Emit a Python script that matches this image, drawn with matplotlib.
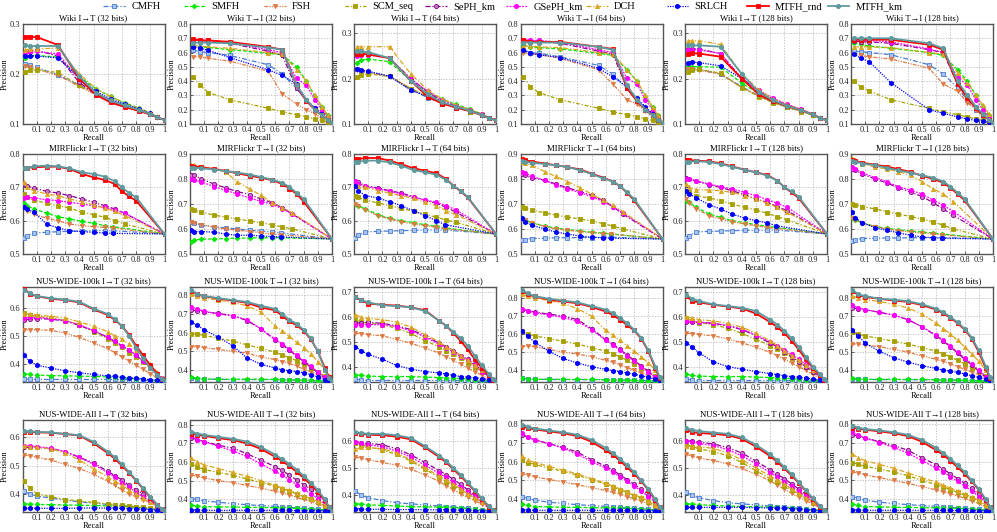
import matplotlib
matplotlib.use('Agg')
import matplotlib.pyplot as plt
from matplotlib.lines import Line2D

plt.rcParams['font.family'] = ['Liberation Serif', 'DejaVu Serif']

METHODS = ['CMFH', 'SMFH', 'FSH', 'SCM_seq', 'SePH_km', 'GSePH_km', 'DCH', 'SRLCH', 'MTFH_rnd', 'MTFH_km']

# ---------------- recall grids ----------------
R_WIKI_IT = [0.02, 0.05, 0.1, 0.25, 0.4, 0.52, 0.62, 0.72, 0.82, 0.9, 0.95, 1.0]
R_WIKI_TI = [0.02, 0.07, 0.13, 0.28, 0.55, 0.65, 0.75, 0.82, 0.88, 0.93, 0.97, 1.0]
R_MIR_A = [0.01, 0.03, 0.08, 0.17, 0.25, 0.33, 0.42, 0.5, 0.58, 0.65, 0.7, 0.75, 0.8, 1.0]
R_MIR_B = [0.01, 0.03, 0.08, 0.17, 0.25, 0.33, 0.42, 0.5, 0.58, 0.65, 0.72, 1.0]
R_MIR_C = [0.01, 0.03, 0.08, 0.17, 0.25, 0.33, 0.42, 0.5, 0.58, 0.64, 1.0]
R_NUS = [0.01, 0.05, 0.1, 0.2, 0.3, 0.4, 0.5, 0.6, 0.65, 0.7, 0.75, 0.8, 0.85, 0.9, 0.95, 0.98, 1.0]

# ---------------- Wiki ----------------
wiki_it32 = dict(
    CMFH=[0.22, 0.217, 0.213, 0.198, 0.178, 0.16, 0.148, 0.138, 0.128, 0.12, 0.113, 0.108],
    SMFH=[0.232, 0.236, 0.237, 0.234, 0.195, 0.17, 0.155, 0.142, 0.132, 0.122, 0.114, 0.108],
    FSH=[0.215, 0.213, 0.21, 0.197, 0.175, 0.158, 0.146, 0.136, 0.127, 0.119, 0.113, 0.108],
    SCM_seq=[0.203, 0.207, 0.208, 0.203, 0.177, 0.16, 0.147, 0.137, 0.127, 0.119, 0.113, 0.108],
    SePH_km=[0.244, 0.246, 0.247, 0.236, 0.183, 0.158, 0.145, 0.135, 0.127, 0.12, 0.113, 0.108],
    GSePH_km=[0.242, 0.243, 0.245, 0.24, 0.19, 0.162, 0.148, 0.137, 0.128, 0.12, 0.113, 0.108],
    DCH=[0.248, 0.25, 0.25, 0.252, 0.2, 0.17, 0.155, 0.142, 0.131, 0.122, 0.114, 0.108],
    SRLCH=[0.236, 0.236, 0.236, 0.232, 0.192, 0.165, 0.15, 0.14, 0.13, 0.121, 0.113, 0.108],
    MTFH_rnd=[0.274, 0.274, 0.274, 0.258, 0.19, 0.158, 0.143, 0.134, 0.126, 0.119, 0.113, 0.108],
    MTFH_km=[0.257, 0.256, 0.256, 0.256, 0.195, 0.162, 0.147, 0.137, 0.128, 0.12, 0.113, 0.108])
wiki_ti32 = dict(
    CMFH=[0.62, 0.605, 0.6, 0.58, 0.515, 0.45, 0.35, 0.26, 0.2, 0.16, 0.13, 0.11],
    SMFH=[0.655, 0.64, 0.635, 0.62, 0.595, 0.585, 0.5, 0.4, 0.29, 0.22, 0.16, 0.11],
    FSH=[0.57, 0.57, 0.56, 0.54, 0.47, 0.31, 0.24, 0.2, 0.17, 0.14, 0.12, 0.11],
    SCM_seq=[0.43, 0.37, 0.32, 0.27, 0.21, 0.185, 0.165, 0.15, 0.135, 0.125, 0.115, 0.11],
    SePH_km=[0.69, 0.685, 0.68, 0.665, 0.61, 0.58, 0.35, 0.27, 0.21, 0.17, 0.13, 0.11],
    GSePH_km=[0.69, 0.69, 0.685, 0.67, 0.62, 0.6, 0.42, 0.37, 0.27, 0.2, 0.15, 0.11],
    DCH=[0.65, 0.645, 0.64, 0.63, 0.6, 0.59, 0.48, 0.4, 0.3, 0.22, 0.16, 0.11],
    SRLCH=[0.64, 0.63, 0.615, 0.565, 0.48, 0.44, 0.38, 0.27, 0.21, 0.17, 0.13, 0.11],
    MTFH_rnd=[0.695, 0.685, 0.685, 0.675, 0.64, 0.62, 0.37, 0.26, 0.2, 0.16, 0.13, 0.11],
    MTFH_km=[0.67, 0.67, 0.67, 0.665, 0.635, 0.62, 0.37, 0.27, 0.2, 0.16, 0.13, 0.11])
wiki_it64 = dict(
    CMFH=[0.22, 0.217, 0.215, 0.205, 0.175, 0.158, 0.145, 0.136, 0.127, 0.119, 0.113, 0.108],
    SMFH=[0.235, 0.24, 0.243, 0.237, 0.195, 0.17, 0.155, 0.143, 0.132, 0.122, 0.114, 0.108],
    FSH=[0.218, 0.215, 0.213, 0.205, 0.178, 0.16, 0.146, 0.137, 0.127, 0.119, 0.113, 0.108],
    SCM_seq=[0.203, 0.207, 0.21, 0.205, 0.178, 0.16, 0.147, 0.137, 0.127, 0.119, 0.113, 0.108],
    SePH_km=[0.257, 0.258, 0.255, 0.245, 0.2, 0.17, 0.15, 0.139, 0.129, 0.121, 0.114, 0.108],
    GSePH_km=[0.25, 0.252, 0.252, 0.245, 0.198, 0.172, 0.153, 0.14, 0.13, 0.121, 0.114, 0.108],
    DCH=[0.27, 0.27, 0.27, 0.27, 0.21, 0.175, 0.155, 0.142, 0.131, 0.122, 0.114, 0.108],
    SRLCH=[0.222, 0.218, 0.216, 0.205, 0.175, 0.16, 0.146, 0.137, 0.128, 0.12, 0.113, 0.108],
    MTFH_rnd=[0.255, 0.255, 0.253, 0.245, 0.195, 0.16, 0.145, 0.136, 0.128, 0.12, 0.113, 0.108],
    MTFH_km=[0.26, 0.26, 0.258, 0.245, 0.195, 0.165, 0.148, 0.138, 0.129, 0.12, 0.113, 0.108])
wiki_ti64 = dict(
    CMFH=[0.62, 0.6, 0.595, 0.57, 0.51, 0.45, 0.35, 0.26, 0.2, 0.16, 0.13, 0.11],
    SMFH=[0.65, 0.64, 0.635, 0.625, 0.595, 0.58, 0.48, 0.4, 0.29, 0.22, 0.16, 0.11],
    FSH=[0.6, 0.59, 0.585, 0.56, 0.48, 0.38, 0.27, 0.24, 0.19, 0.15, 0.12, 0.11],
    SCM_seq=[0.43, 0.36, 0.32, 0.27, 0.21, 0.185, 0.165, 0.15, 0.135, 0.125, 0.115, 0.11],
    SePH_km=[0.69, 0.68, 0.68, 0.665, 0.61, 0.59, 0.35, 0.27, 0.21, 0.17, 0.13, 0.11],
    GSePH_km=[0.69, 0.685, 0.685, 0.67, 0.62, 0.6, 0.42, 0.38, 0.27, 0.2, 0.15, 0.11],
    DCH=[0.645, 0.645, 0.64, 0.635, 0.6, 0.59, 0.48, 0.4, 0.3, 0.22, 0.16, 0.11],
    SRLCH=[0.615, 0.595, 0.585, 0.565, 0.49, 0.43, 0.36, 0.28, 0.22, 0.17, 0.13, 0.11],
    MTFH_rnd=[0.69, 0.675, 0.675, 0.675, 0.64, 0.625, 0.35, 0.26, 0.2, 0.16, 0.13, 0.11],
    MTFH_km=[0.67, 0.67, 0.67, 0.67, 0.64, 0.62, 0.37, 0.27, 0.2, 0.16, 0.13, 0.11])
wiki_it128 = dict(
    CMFH=[0.225, 0.222, 0.22, 0.21, 0.182, 0.162, 0.148, 0.137, 0.128, 0.12, 0.113, 0.108],
    SMFH=[0.225, 0.226, 0.226, 0.225, 0.19, 0.167, 0.152, 0.14, 0.13, 0.121, 0.114, 0.108],
    FSH=[0.22, 0.22, 0.218, 0.21, 0.18, 0.162, 0.147, 0.137, 0.128, 0.12, 0.113, 0.108],
    SCM_seq=[0.215, 0.218, 0.22, 0.212, 0.18, 0.16, 0.147, 0.137, 0.127, 0.119, 0.113, 0.108],
    SePH_km=[0.265, 0.265, 0.265, 0.255, 0.2, 0.172, 0.155, 0.142, 0.131, 0.121, 0.114, 0.108],
    GSePH_km=[0.262, 0.263, 0.263, 0.255, 0.2, 0.174, 0.157, 0.143, 0.132, 0.122, 0.114, 0.108],
    DCH=[0.283, 0.283, 0.283, 0.275, 0.21, 0.175, 0.155, 0.142, 0.131, 0.122, 0.114, 0.108],
    SRLCH=[0.235, 0.236, 0.235, 0.228, 0.2, 0.165, 0.15, 0.14, 0.13, 0.121, 0.113, 0.108],
    MTFH_rnd=[0.255, 0.256, 0.255, 0.248, 0.2, 0.165, 0.15, 0.14, 0.13, 0.121, 0.113, 0.108],
    MTFH_km=[0.273, 0.273, 0.273, 0.27, 0.21, 0.17, 0.152, 0.14, 0.13, 0.121, 0.113, 0.108])
wiki_ti128 = dict(
    CMFH=[0.61, 0.605, 0.6, 0.585, 0.515, 0.45, 0.355, 0.265, 0.2, 0.16, 0.13, 0.11],
    SMFH=[0.67, 0.66, 0.645, 0.63, 0.6, 0.58, 0.48, 0.4, 0.3, 0.22, 0.16, 0.11],
    FSH=[0.59, 0.58, 0.57, 0.555, 0.49, 0.38, 0.33, 0.25, 0.2, 0.15, 0.12, 0.11],
    SCM_seq=[0.4, 0.36, 0.33, 0.27, 0.21, 0.185, 0.165, 0.15, 0.135, 0.125, 0.115, 0.11],
    SePH_km=[0.68, 0.675, 0.675, 0.665, 0.62, 0.6, 0.38, 0.3, 0.22, 0.17, 0.13, 0.11],
    GSePH_km=[0.69, 0.685, 0.685, 0.675, 0.625, 0.6, 0.43, 0.37, 0.27, 0.2, 0.15, 0.11],
    DCH=[0.64, 0.64, 0.64, 0.635, 0.6, 0.59, 0.46, 0.39, 0.3, 0.23, 0.17, 0.11],
    SRLCH=[0.59, 0.56, 0.535, 0.39, 0.2, 0.175, 0.15, 0.135, 0.125, 0.118, 0.113, 0.11],
    MTFH_rnd=[0.69, 0.69, 0.69, 0.69, 0.655, 0.62, 0.38, 0.28, 0.21, 0.16, 0.13, 0.11],
    MTFH_km=[0.7, 0.7, 0.7, 0.7, 0.665, 0.63, 0.4, 0.3, 0.22, 0.17, 0.13, 0.11])

# ---------------- MIRFlickr ----------------
mir_it32 = dict(
    CMFH=[0.547, 0.555, 0.563, 0.565, 0.567, 0.568, 0.569, 0.57, 0.57, 0.57, 0.56],
    SMFH=[0.653, 0.645, 0.635, 0.623, 0.612, 0.605, 0.598, 0.592, 0.585, 0.582, 0.56],
    FSH=[0.64, 0.63, 0.62, 0.607, 0.6, 0.59, 0.585, 0.582, 0.58, 0.578, 0.56],
    SCM_seq=[0.68, 0.67, 0.662, 0.652, 0.645, 0.638, 0.625, 0.618, 0.61, 0.6, 0.59, 0.56],
    SePH_km=[0.71, 0.705, 0.698, 0.688, 0.683, 0.675, 0.665, 0.655, 0.645, 0.635, 0.622, 0.56],
    GSePH_km=[0.668, 0.67, 0.668, 0.663, 0.66, 0.655, 0.65, 0.645, 0.64, 0.632, 0.623, 0.56],
    DCH=[0.715, 0.7, 0.69, 0.68, 0.675, 0.665, 0.657, 0.647, 0.637, 0.628, 0.615, 0.56],
    SRLCH=[0.642, 0.635, 0.625, 0.59, 0.578, 0.57, 0.567, 0.565, 0.563, 0.562, 0.56],
    MTFH_rnd=[0.757, 0.758, 0.76, 0.762, 0.762, 0.755, 0.74, 0.73, 0.722, 0.71, 0.688, 0.673, 0.66, 0.56],
    MTFH_km=[0.758, 0.758, 0.763, 0.765, 0.763, 0.757, 0.745, 0.74, 0.732, 0.718, 0.7, 0.683, 0.67, 0.56])
mir_ti32 = dict(
    CMFH=[0.63, 0.625, 0.615, 0.608, 0.605, 0.6, 0.595, 0.592, 0.588, 0.585, 0.56],
    SMFH=[0.55, 0.555, 0.56, 0.56, 0.562, 0.563, 0.564, 0.565, 0.565, 0.565, 0.56],
    FSH=[0.63, 0.625, 0.618, 0.607, 0.6, 0.595, 0.59, 0.585, 0.58, 0.577, 0.56],
    SCM_seq=[0.68, 0.675, 0.668, 0.655, 0.648, 0.64, 0.632, 0.625, 0.617, 0.608, 0.6, 0.56],
    SePH_km=[0.818, 0.815, 0.8, 0.78, 0.765, 0.75, 0.738, 0.72, 0.705, 0.685, 0.66, 0.56],
    GSePH_km=[0.8, 0.797, 0.788, 0.77, 0.755, 0.74, 0.725, 0.71, 0.7, 0.68, 0.66, 0.56],
    DCH=[0.855, 0.858, 0.85, 0.84, 0.828, 0.79, 0.76, 0.735, 0.705, 0.685, 0.665, 0.56],
    SRLCH=[0.595, 0.59, 0.59, 0.587, 0.58, 0.575, 0.575, 0.572, 0.57, 0.568, 0.56],
    MTFH_rnd=[0.852, 0.85, 0.847, 0.84, 0.833, 0.823, 0.813, 0.805, 0.795, 0.78, 0.762, 0.74, 0.71, 0.56],
    MTFH_km=[0.845, 0.845, 0.843, 0.838, 0.832, 0.826, 0.818, 0.808, 0.797, 0.785, 0.768, 0.745, 0.72, 0.56])
mir_it64 = dict(
    CMFH=[0.548, 0.556, 0.566, 0.568, 0.569, 0.57, 0.571, 0.572, 0.572, 0.572, 0.56],
    SMFH=[0.65, 0.645, 0.635, 0.618, 0.607, 0.6, 0.594, 0.588, 0.583, 0.578, 0.56],
    FSH=[0.65, 0.645, 0.632, 0.615, 0.605, 0.597, 0.59, 0.585, 0.58, 0.576, 0.56],
    SCM_seq=[0.673, 0.67, 0.662, 0.653, 0.645, 0.637, 0.628, 0.62, 0.61, 0.602, 0.595, 0.56],
    SePH_km=[0.72, 0.715, 0.705, 0.698, 0.69, 0.683, 0.672, 0.662, 0.652, 0.64, 0.625, 0.56],
    GSePH_km=[0.72, 0.71, 0.703, 0.695, 0.688, 0.68, 0.67, 0.662, 0.655, 0.645, 0.632, 0.56],
    DCH=[0.705, 0.703, 0.7, 0.69, 0.683, 0.675, 0.667, 0.655, 0.645, 0.63, 0.618, 0.56],
    SRLCH=[0.705, 0.69, 0.675, 0.668, 0.657, 0.645, 0.63, 0.615, 0.6, 0.588, 0.56],
    MTFH_rnd=[0.785, 0.785, 0.788, 0.788, 0.78, 0.77, 0.757, 0.75, 0.742, 0.725, 0.705, 0.688, 0.67, 0.56],
    MTFH_km=[0.775, 0.777, 0.78, 0.78, 0.775, 0.765, 0.752, 0.745, 0.738, 0.722, 0.705, 0.69, 0.672, 0.56])
mir_ti64 = dict(
    CMFH=[0.555, 0.558, 0.562, 0.563, 0.565, 0.565, 0.566, 0.566, 0.567, 0.567, 0.56],
    SMFH=[0.645, 0.637, 0.625, 0.612, 0.603, 0.598, 0.592, 0.587, 0.584, 0.58, 0.56],
    FSH=[0.64, 0.635, 0.625, 0.61, 0.6, 0.595, 0.59, 0.585, 0.582, 0.58, 0.56],
    SCM_seq=[0.69, 0.685, 0.675, 0.665, 0.655, 0.648, 0.64, 0.632, 0.622, 0.612, 0.6, 0.56],
    SePH_km=[0.82, 0.815, 0.805, 0.795, 0.78, 0.765, 0.75, 0.735, 0.715, 0.69, 0.66, 0.56],
    GSePH_km=[0.83, 0.825, 0.81, 0.795, 0.775, 0.76, 0.745, 0.73, 0.71, 0.69, 0.665, 0.56],
    DCH=[0.87, 0.865, 0.855, 0.83, 0.81, 0.79, 0.765, 0.74, 0.715, 0.695, 0.67, 0.56],
    SRLCH=[0.645, 0.63, 0.615, 0.6, 0.588, 0.58, 0.572, 0.567, 0.565, 0.563, 0.56],
    MTFH_rnd=[0.88, 0.875, 0.87, 0.862, 0.855, 0.848, 0.838, 0.822, 0.806, 0.79, 0.772, 0.745, 0.715, 0.56],
    MTFH_km=[0.872, 0.87, 0.865, 0.86, 0.855, 0.848, 0.835, 0.82, 0.803, 0.79, 0.773, 0.748, 0.72, 0.56])
mir_it128 = dict(
    CMFH=[0.548, 0.555, 0.566, 0.568, 0.569, 0.57, 0.571, 0.571, 0.571, 0.572, 0.56],
    SMFH=[0.66, 0.655, 0.64, 0.62, 0.61, 0.6, 0.594, 0.588, 0.583, 0.58, 0.56],
    FSH=[0.665, 0.652, 0.635, 0.615, 0.605, 0.597, 0.59, 0.585, 0.58, 0.577, 0.56],
    SCM_seq=[0.69, 0.685, 0.675, 0.668, 0.66, 0.65, 0.64, 0.632, 0.622, 0.612, 0.602, 0.56],
    SePH_km=[0.728, 0.725, 0.718, 0.708, 0.7, 0.69, 0.678, 0.665, 0.655, 0.642, 0.63, 0.56],
    GSePH_km=[0.725, 0.725, 0.72, 0.71, 0.702, 0.695, 0.685, 0.675, 0.663, 0.652, 0.64, 0.56],
    DCH=[0.71, 0.7, 0.693, 0.692, 0.69, 0.685, 0.675, 0.665, 0.652, 0.64, 0.625, 0.56],
    SRLCH=[0.69, 0.68, 0.668, 0.648, 0.635, 0.62, 0.608, 0.6, 0.593, 0.585, 0.56],
    MTFH_rnd=[0.782, 0.782, 0.78, 0.778, 0.772, 0.763, 0.753, 0.745, 0.737, 0.72, 0.7, 0.685, 0.668, 0.56],
    MTFH_km=[0.775, 0.777, 0.778, 0.776, 0.77, 0.762, 0.752, 0.745, 0.735, 0.72, 0.7, 0.688, 0.672, 0.56])
mir_ti128 = dict(
    CMFH=[0.553, 0.557, 0.562, 0.563, 0.564, 0.564, 0.565, 0.565, 0.565, 0.566, 0.56],
    SMFH=[0.645, 0.637, 0.625, 0.61, 0.603, 0.597, 0.592, 0.588, 0.584, 0.58, 0.56],
    FSH=[0.645, 0.635, 0.623, 0.61, 0.6, 0.594, 0.588, 0.584, 0.58, 0.577, 0.56],
    SCM_seq=[0.7, 0.697, 0.69, 0.68, 0.67, 0.66, 0.65, 0.64, 0.628, 0.615, 0.6, 0.56],
    SePH_km=[0.842, 0.835, 0.82, 0.8, 0.785, 0.765, 0.748, 0.73, 0.705, 0.68, 0.655, 0.56],
    GSePH_km=[0.85, 0.84, 0.825, 0.805, 0.79, 0.77, 0.755, 0.74, 0.715, 0.695, 0.67, 0.56],
    DCH=[0.885, 0.875, 0.86, 0.848, 0.84, 0.83, 0.815, 0.79, 0.76, 0.74, 0.71, 0.56],
    SRLCH=[0.67, 0.645, 0.625, 0.605, 0.595, 0.585, 0.575, 0.568, 0.565, 0.563, 0.56],
    MTFH_rnd=[0.875, 0.872, 0.865, 0.857, 0.85, 0.84, 0.828, 0.813, 0.8, 0.785, 0.765, 0.74, 0.715, 0.56],
    MTFH_km=[0.872, 0.87, 0.862, 0.855, 0.845, 0.835, 0.825, 0.815, 0.805, 0.79, 0.77, 0.745, 0.72, 0.56])

# ---------------- NUS-WIDE-100k ----------------
n100_it32 = dict(
    CMFH=[0.347, 0.345, 0.344, 0.344, 0.344, 0.344, 0.344, 0.344, 0.344, 0.344, 0.343, 0.342, 0.341, 0.34, 0.339, 0.338, 0.338],
    SMFH=[0.365, 0.362, 0.36, 0.358, 0.357, 0.356, 0.355, 0.353, 0.352, 0.35, 0.348, 0.346, 0.344, 0.342, 0.34, 0.339, 0.338],
    FSH=[0.522, 0.522, 0.522, 0.52, 0.51, 0.495, 0.475, 0.455, 0.44, 0.425, 0.41, 0.395, 0.38, 0.365, 0.35, 0.342, 0.338],
    SCM_seq=[0.583, 0.575, 0.57, 0.565, 0.555, 0.54, 0.515, 0.49, 0.475, 0.46, 0.44, 0.425, 0.405, 0.385, 0.36, 0.345, 0.338],
    SePH_km=[0.557, 0.56, 0.562, 0.56, 0.553, 0.538, 0.518, 0.495, 0.48, 0.465, 0.45, 0.43, 0.41, 0.385, 0.36, 0.345, 0.338],
    GSePH_km=[0.565, 0.566, 0.566, 0.562, 0.555, 0.54, 0.52, 0.495, 0.48, 0.465, 0.45, 0.43, 0.41, 0.39, 0.365, 0.348, 0.338],
    DCH=[0.58, 0.577, 0.575, 0.57, 0.565, 0.55, 0.535, 0.515, 0.5, 0.49, 0.47, 0.45, 0.425, 0.4, 0.37, 0.35, 0.338],
    SRLCH=[0.43, 0.41, 0.395, 0.385, 0.375, 0.368, 0.362, 0.357, 0.355, 0.352, 0.35, 0.348, 0.346, 0.343, 0.341, 0.34, 0.338],
    MTFH_rnd=[0.672, 0.65, 0.642, 0.633, 0.628, 0.62, 0.595, 0.575, 0.557, 0.535, 0.505, 0.465, 0.43, 0.395, 0.365, 0.345, 0.338],
    MTFH_km=[0.665, 0.652, 0.643, 0.635, 0.63, 0.622, 0.598, 0.578, 0.56, 0.535, 0.5, 0.458, 0.42, 0.385, 0.36, 0.345, 0.338])
n100_ti32 = dict(
    CMFH=[0.355, 0.352, 0.35, 0.349, 0.348, 0.348, 0.348, 0.347, 0.347, 0.346, 0.345, 0.344, 0.343, 0.342, 0.34, 0.339, 0.338],
    SMFH=[0.36, 0.355, 0.352, 0.35, 0.35, 0.35, 0.35, 0.349, 0.348, 0.347, 0.346, 0.345, 0.344, 0.342, 0.34, 0.339, 0.338],
    FSH=[0.525, 0.525, 0.52, 0.51, 0.5, 0.49, 0.47, 0.455, 0.445, 0.435, 0.42, 0.405, 0.39, 0.375, 0.355, 0.345, 0.338],
    SCM_seq=[0.595, 0.592, 0.585, 0.57, 0.555, 0.535, 0.515, 0.495, 0.48, 0.465, 0.45, 0.43, 0.41, 0.39, 0.365, 0.35, 0.338],
    SePH_km=[0.72, 0.718, 0.712, 0.703, 0.692, 0.665, 0.62, 0.56, 0.535, 0.505, 0.475, 0.445, 0.415, 0.385, 0.355, 0.343, 0.338],
    GSePH_km=[0.74, 0.725, 0.715, 0.7, 0.69, 0.67, 0.62, 0.565, 0.54, 0.51, 0.48, 0.45, 0.42, 0.39, 0.36, 0.345, 0.338],
    DCH=[0.805, 0.797, 0.785, 0.775, 0.762, 0.745, 0.71, 0.635, 0.61, 0.58, 0.548, 0.52, 0.485, 0.445, 0.4, 0.365, 0.338],
    SRLCH=[0.655, 0.64, 0.615, 0.575, 0.53, 0.465, 0.43, 0.41, 0.4, 0.395, 0.39, 0.385, 0.375, 0.362, 0.348, 0.34, 0.338],
    MTFH_rnd=[0.825, 0.805, 0.795, 0.783, 0.772, 0.76, 0.735, 0.72, 0.69, 0.66, 0.64, 0.61, 0.565, 0.5, 0.41, 0.36, 0.338],
    MTFH_km=[0.83, 0.808, 0.797, 0.785, 0.775, 0.765, 0.745, 0.727, 0.7, 0.668, 0.648, 0.615, 0.57, 0.5, 0.4, 0.355, 0.338])
n100_it64 = dict(
    CMFH=[0.35, 0.346, 0.344, 0.344, 0.344, 0.344, 0.344, 0.344, 0.344, 0.344, 0.344, 0.343, 0.342, 0.341, 0.34, 0.34, 0.34],
    SMFH=[0.368, 0.365, 0.362, 0.36, 0.36, 0.36, 0.358, 0.356, 0.355, 0.354, 0.352, 0.35, 0.348, 0.345, 0.343, 0.341, 0.34],
    FSH=[0.535, 0.533, 0.53, 0.525, 0.51, 0.495, 0.475, 0.455, 0.44, 0.425, 0.41, 0.395, 0.38, 0.365, 0.35, 0.343, 0.34],
    SCM_seq=[0.59, 0.58, 0.575, 0.57, 0.555, 0.535, 0.505, 0.48, 0.465, 0.45, 0.435, 0.415, 0.4, 0.38, 0.36, 0.348, 0.34],
    SePH_km=[0.575, 0.578, 0.58, 0.575, 0.565, 0.55, 0.525, 0.495, 0.48, 0.465, 0.445, 0.43, 0.41, 0.385, 0.36, 0.348, 0.34],
    GSePH_km=[0.568, 0.57, 0.57, 0.57, 0.562, 0.545, 0.52, 0.49, 0.475, 0.46, 0.44, 0.425, 0.405, 0.38, 0.36, 0.347, 0.34],
    DCH=[0.61, 0.6, 0.595, 0.59, 0.58, 0.56, 0.53, 0.5, 0.48, 0.465, 0.445, 0.425, 0.405, 0.385, 0.365, 0.35, 0.34],
    SRLCH=[0.48, 0.465, 0.45, 0.43, 0.405, 0.39, 0.38, 0.375, 0.37, 0.365, 0.36, 0.358, 0.355, 0.352, 0.347, 0.343, 0.34],
    MTFH_rnd=[0.68, 0.668, 0.655, 0.65, 0.647, 0.64, 0.628, 0.585, 0.565, 0.535, 0.505, 0.47, 0.43, 0.395, 0.365, 0.348, 0.34],
    MTFH_km=[0.683, 0.67, 0.66, 0.648, 0.645, 0.64, 0.625, 0.585, 0.565, 0.54, 0.515, 0.485, 0.445, 0.405, 0.37, 0.35, 0.34])
n100_ti64 = dict(
    CMFH=[0.355, 0.352, 0.35, 0.349, 0.348, 0.348, 0.348, 0.347, 0.347, 0.346, 0.345, 0.344, 0.343, 0.342, 0.34, 0.339, 0.338],
    SMFH=[0.355, 0.352, 0.35, 0.35, 0.35, 0.349, 0.349, 0.348, 0.347, 0.346, 0.345, 0.344, 0.343, 0.342, 0.34, 0.339, 0.338],
    FSH=[0.53, 0.535, 0.53, 0.515, 0.5, 0.49, 0.475, 0.455, 0.445, 0.43, 0.415, 0.4, 0.385, 0.37, 0.355, 0.345, 0.338],
    SCM_seq=[0.615, 0.6, 0.59, 0.575, 0.56, 0.545, 0.525, 0.505, 0.49, 0.475, 0.455, 0.435, 0.415, 0.395, 0.37, 0.352, 0.338],
    SePH_km=[0.735, 0.73, 0.722, 0.71, 0.7, 0.68, 0.63, 0.57, 0.545, 0.515, 0.485, 0.455, 0.425, 0.395, 0.36, 0.345, 0.338],
    GSePH_km=[0.74, 0.728, 0.718, 0.705, 0.693, 0.67, 0.625, 0.565, 0.54, 0.51, 0.48, 0.45, 0.42, 0.39, 0.36, 0.345, 0.338],
    DCH=[0.82, 0.81, 0.8, 0.785, 0.77, 0.74, 0.7, 0.62, 0.595, 0.565, 0.535, 0.505, 0.475, 0.44, 0.4, 0.365, 0.338],
    SRLCH=[0.615, 0.59, 0.555, 0.505, 0.465, 0.44, 0.42, 0.405, 0.398, 0.392, 0.385, 0.378, 0.37, 0.36, 0.35, 0.342, 0.338],
    MTFH_rnd=[0.84, 0.82, 0.808, 0.79, 0.78, 0.77, 0.75, 0.725, 0.705, 0.68, 0.65, 0.62, 0.575, 0.505, 0.41, 0.355, 0.338],
    MTFH_km=[0.845, 0.825, 0.81, 0.795, 0.785, 0.775, 0.755, 0.735, 0.715, 0.69, 0.66, 0.625, 0.58, 0.51, 0.42, 0.36, 0.338])
n100_it128 = dict(
    CMFH=[0.35, 0.346, 0.344, 0.344, 0.344, 0.344, 0.344, 0.344, 0.344, 0.344, 0.344, 0.343, 0.342, 0.341, 0.34, 0.34, 0.34],
    SMFH=[0.37, 0.365, 0.362, 0.36, 0.36, 0.36, 0.358, 0.356, 0.355, 0.354, 0.352, 0.35, 0.348, 0.345, 0.343, 0.341, 0.34],
    FSH=[0.535, 0.533, 0.53, 0.525, 0.512, 0.497, 0.478, 0.458, 0.445, 0.43, 0.415, 0.4, 0.385, 0.37, 0.352, 0.344, 0.34],
    SCM_seq=[0.595, 0.585, 0.578, 0.57, 0.555, 0.535, 0.51, 0.485, 0.47, 0.455, 0.437, 0.418, 0.4, 0.38, 0.36, 0.348, 0.34],
    SePH_km=[0.58, 0.58, 0.58, 0.575, 0.565, 0.55, 0.525, 0.495, 0.48, 0.46, 0.44, 0.42, 0.4, 0.38, 0.36, 0.347, 0.34],
    GSePH_km=[0.585, 0.583, 0.58, 0.575, 0.567, 0.552, 0.528, 0.5, 0.485, 0.468, 0.45, 0.43, 0.41, 0.385, 0.362, 0.348, 0.34],
    DCH=[0.6, 0.597, 0.59, 0.585, 0.575, 0.56, 0.535, 0.505, 0.485, 0.465, 0.445, 0.425, 0.405, 0.385, 0.365, 0.35, 0.34],
    SRLCH=[0.495, 0.48, 0.455, 0.42, 0.4, 0.39, 0.38, 0.372, 0.368, 0.363, 0.36, 0.357, 0.354, 0.35, 0.346, 0.342, 0.34],
    MTFH_rnd=[0.685, 0.665, 0.66, 0.65, 0.643, 0.635, 0.615, 0.58, 0.56, 0.535, 0.505, 0.47, 0.43, 0.395, 0.365, 0.348, 0.34],
    MTFH_km=[0.69, 0.675, 0.665, 0.652, 0.645, 0.638, 0.625, 0.59, 0.57, 0.545, 0.515, 0.48, 0.44, 0.4, 0.37, 0.35, 0.34])
n100_ti128 = dict(
    CMFH=[0.352, 0.35, 0.349, 0.348, 0.348, 0.348, 0.347, 0.347, 0.346, 0.346, 0.345, 0.344, 0.343, 0.342, 0.34, 0.339, 0.338],
    SMFH=[0.355, 0.352, 0.35, 0.35, 0.35, 0.349, 0.349, 0.348, 0.347, 0.346, 0.345, 0.344, 0.343, 0.342, 0.34, 0.339, 0.338],
    FSH=[0.545, 0.545, 0.54, 0.53, 0.515, 0.5, 0.48, 0.46, 0.45, 0.435, 0.42, 0.405, 0.39, 0.375, 0.355, 0.345, 0.338],
    SCM_seq=[0.61, 0.6, 0.59, 0.575, 0.56, 0.545, 0.525, 0.505, 0.49, 0.475, 0.455, 0.435, 0.415, 0.395, 0.37, 0.352, 0.338],
    SePH_km=[0.745, 0.74, 0.735, 0.72, 0.705, 0.68, 0.64, 0.59, 0.56, 0.53, 0.495, 0.46, 0.43, 0.395, 0.36, 0.345, 0.338],
    GSePH_km=[0.76, 0.745, 0.735, 0.72, 0.705, 0.68, 0.64, 0.595, 0.565, 0.535, 0.5, 0.47, 0.435, 0.4, 0.365, 0.346, 0.338],
    DCH=[0.81, 0.8, 0.79, 0.78, 0.765, 0.745, 0.71, 0.66, 0.63, 0.6, 0.565, 0.53, 0.49, 0.45, 0.4, 0.365, 0.338],
    SRLCH=[0.62, 0.59, 0.55, 0.505, 0.47, 0.445, 0.425, 0.41, 0.4, 0.395, 0.388, 0.38, 0.37, 0.36, 0.35, 0.342, 0.338],
    MTFH_rnd=[0.84, 0.815, 0.805, 0.795, 0.785, 0.778, 0.76, 0.735, 0.715, 0.69, 0.66, 0.625, 0.575, 0.5, 0.41, 0.355, 0.338],
    MTFH_km=[0.845, 0.82, 0.81, 0.795, 0.79, 0.782, 0.765, 0.74, 0.72, 0.695, 0.665, 0.63, 0.58, 0.51, 0.42, 0.36, 0.338])

# ---------------- NUS-WIDE-All ----------------
nall_it32 = dict(
    CMFH=[0.41, 0.4, 0.393, 0.385, 0.378, 0.372, 0.367, 0.363, 0.36, 0.358, 0.355, 0.352, 0.35, 0.347, 0.343, 0.34, 0.338],
    SMFH=[0.365, 0.365, 0.363, 0.362, 0.361, 0.36, 0.359, 0.358, 0.357, 0.356, 0.355, 0.353, 0.351, 0.348, 0.345, 0.341, 0.338],
    FSH=[0.538, 0.535, 0.53, 0.52, 0.505, 0.49, 0.47, 0.445, 0.43, 0.415, 0.4, 0.39, 0.38, 0.37, 0.355, 0.345, 0.338],
    SCM_seq=[0.445, 0.42, 0.4, 0.39, 0.38, 0.375, 0.37, 0.365, 0.362, 0.36, 0.357, 0.355, 0.352, 0.35, 0.345, 0.34, 0.338],
    SePH_km=[0.565, 0.565, 0.565, 0.56, 0.55, 0.53, 0.51, 0.48, 0.465, 0.45, 0.43, 0.415, 0.4, 0.38, 0.36, 0.347, 0.338],
    GSePH_km=[0.57, 0.57, 0.568, 0.562, 0.55, 0.53, 0.505, 0.475, 0.46, 0.44, 0.425, 0.405, 0.39, 0.375, 0.355, 0.345, 0.338],
    DCH=[0.57, 0.568, 0.565, 0.56, 0.545, 0.52, 0.49, 0.46, 0.445, 0.43, 0.415, 0.4, 0.385, 0.37, 0.355, 0.345, 0.338],
    SRLCH=[0.35, 0.349, 0.349, 0.349, 0.349, 0.35, 0.35, 0.35, 0.35, 0.349, 0.348, 0.347, 0.346, 0.344, 0.342, 0.34, 0.338],
    MTFH_rnd=[0.62, 0.62, 0.618, 0.617, 0.612, 0.607, 0.58, 0.545, 0.525, 0.5, 0.475, 0.447, 0.417, 0.387, 0.36, 0.345, 0.338],
    MTFH_km=[0.623, 0.622, 0.62, 0.618, 0.613, 0.608, 0.585, 0.55, 0.53, 0.505, 0.478, 0.45, 0.42, 0.39, 0.362, 0.347, 0.338])
nall_ti32 = dict(
    CMFH=[0.405, 0.4, 0.393, 0.385, 0.378, 0.372, 0.367, 0.363, 0.36, 0.358, 0.355, 0.352, 0.35, 0.347, 0.343, 0.34, 0.338],
    SMFH=[0.37, 0.365, 0.362, 0.36, 0.36, 0.358, 0.357, 0.356, 0.355, 0.354, 0.352, 0.35, 0.348, 0.346, 0.343, 0.34, 0.338],
    FSH=[0.53, 0.525, 0.515, 0.5, 0.49, 0.475, 0.46, 0.445, 0.435, 0.425, 0.412, 0.4, 0.39, 0.375, 0.36, 0.345, 0.338],
    SCM_seq=[0.59, 0.575, 0.56, 0.545, 0.53, 0.51, 0.49, 0.47, 0.458, 0.445, 0.43, 0.415, 0.4, 0.385, 0.365, 0.348, 0.338],
    SePH_km=[0.73, 0.72, 0.71, 0.69, 0.675, 0.645, 0.61, 0.575, 0.555, 0.53, 0.505, 0.48, 0.455, 0.425, 0.39, 0.36, 0.338],
    GSePH_km=[0.738, 0.72, 0.708, 0.685, 0.66, 0.63, 0.59, 0.55, 0.53, 0.505, 0.48, 0.455, 0.43, 0.405, 0.375, 0.352, 0.338],
    DCH=[0.62, 0.6, 0.585, 0.565, 0.545, 0.525, 0.5, 0.475, 0.462, 0.45, 0.435, 0.42, 0.405, 0.39, 0.37, 0.35, 0.338],
    SRLCH=[0.345, 0.343, 0.342, 0.342, 0.342, 0.342, 0.342, 0.342, 0.342, 0.342, 0.341, 0.341, 0.34, 0.34, 0.339, 0.338, 0.338],
    MTFH_rnd=[0.752, 0.745, 0.74, 0.728, 0.718, 0.7, 0.67, 0.628, 0.605, 0.578, 0.548, 0.515, 0.48, 0.44, 0.395, 0.358, 0.338],
    MTFH_km=[0.763, 0.752, 0.745, 0.735, 0.724, 0.71, 0.68, 0.64, 0.615, 0.59, 0.56, 0.527, 0.49, 0.45, 0.4, 0.36, 0.338])
nall_it64 = dict(
    CMFH=[0.415, 0.4, 0.39, 0.38, 0.372, 0.368, 0.364, 0.36, 0.358, 0.356, 0.354, 0.352, 0.35, 0.347, 0.343, 0.34, 0.338],
    SMFH=[0.368, 0.368, 0.365, 0.362, 0.36, 0.358, 0.357, 0.356, 0.355, 0.354, 0.352, 0.35, 0.348, 0.346, 0.343, 0.34, 0.338],
    FSH=[0.54, 0.535, 0.53, 0.52, 0.51, 0.495, 0.475, 0.45, 0.435, 0.42, 0.405, 0.392, 0.38, 0.367, 0.353, 0.344, 0.338],
    SCM_seq=[0.59, 0.585, 0.578, 0.565, 0.55, 0.525, 0.495, 0.465, 0.45, 0.435, 0.42, 0.405, 0.39, 0.373, 0.355, 0.345, 0.338],
    SePH_km=[0.597, 0.592, 0.59, 0.585, 0.57, 0.548, 0.52, 0.49, 0.475, 0.458, 0.44, 0.42, 0.4, 0.38, 0.36, 0.347, 0.338],
    GSePH_km=[0.595, 0.59, 0.585, 0.578, 0.562, 0.54, 0.51, 0.48, 0.465, 0.448, 0.43, 0.412, 0.395, 0.375, 0.355, 0.345, 0.338],
    DCH=[0.568, 0.575, 0.575, 0.57, 0.555, 0.53, 0.5, 0.47, 0.455, 0.44, 0.423, 0.405, 0.39, 0.375, 0.357, 0.345, 0.338],
    SRLCH=[0.35, 0.349, 0.348, 0.348, 0.347, 0.347, 0.346, 0.346, 0.346, 0.345, 0.345, 0.344, 0.343, 0.342, 0.341, 0.339, 0.338],
    MTFH_rnd=[0.63, 0.625, 0.622, 0.62, 0.615, 0.605, 0.575, 0.54, 0.52, 0.495, 0.47, 0.443, 0.415, 0.385, 0.358, 0.345, 0.338],
    MTFH_km=[0.632, 0.628, 0.625, 0.625, 0.62, 0.61, 0.58, 0.545, 0.525, 0.5, 0.475, 0.447, 0.418, 0.388, 0.36, 0.347, 0.338])
nall_ti64 = dict(
    CMFH=[0.415, 0.405, 0.395, 0.385, 0.378, 0.372, 0.367, 0.363, 0.36, 0.358, 0.355, 0.352, 0.35, 0.347, 0.343, 0.34, 0.338],
    SMFH=[0.375, 0.368, 0.362, 0.36, 0.358, 0.357, 0.356, 0.355, 0.354, 0.353, 0.352, 0.35, 0.348, 0.346, 0.343, 0.34, 0.338],
    FSH=[0.535, 0.53, 0.52, 0.505, 0.492, 0.478, 0.462, 0.447, 0.437, 0.427, 0.415, 0.403, 0.39, 0.377, 0.36, 0.346, 0.338],
    SCM_seq=[0.61, 0.595, 0.585, 0.565, 0.548, 0.528, 0.505, 0.48, 0.467, 0.452, 0.437, 0.42, 0.405, 0.388, 0.368, 0.35, 0.338],
    SePH_km=[0.74, 0.73, 0.715, 0.695, 0.675, 0.65, 0.61, 0.575, 0.555, 0.53, 0.505, 0.48, 0.455, 0.425, 0.39, 0.36, 0.338],
    GSePH_km=[0.75, 0.73, 0.715, 0.695, 0.67, 0.64, 0.6, 0.565, 0.545, 0.52, 0.495, 0.47, 0.445, 0.415, 0.385, 0.355, 0.338],
    DCH=[0.63, 0.61, 0.595, 0.575, 0.555, 0.535, 0.51, 0.485, 0.47, 0.455, 0.44, 0.425, 0.41, 0.392, 0.372, 0.352, 0.338],
    SRLCH=[0.345, 0.343, 0.342, 0.342, 0.342, 0.342, 0.342, 0.342, 0.342, 0.342, 0.341, 0.341, 0.34, 0.34, 0.339, 0.338, 0.338],
    MTFH_rnd=[0.785, 0.778, 0.77, 0.76, 0.75, 0.735, 0.705, 0.66, 0.635, 0.605, 0.57, 0.535, 0.495, 0.45, 0.395, 0.358, 0.338],
    MTFH_km=[0.795, 0.785, 0.775, 0.765, 0.755, 0.742, 0.715, 0.672, 0.645, 0.615, 0.58, 0.545, 0.5, 0.455, 0.4, 0.36, 0.338])
nall_it128 = dict(
    CMFH=[0.41, 0.4, 0.39, 0.38, 0.372, 0.368, 0.364, 0.36, 0.358, 0.356, 0.354, 0.352, 0.35, 0.347, 0.343, 0.34, 0.338],
    SMFH=[0.368, 0.368, 0.365, 0.362, 0.36, 0.358, 0.357, 0.356, 0.355, 0.354, 0.352, 0.35, 0.348, 0.346, 0.343, 0.34, 0.338],
    FSH=[0.55, 0.543, 0.537, 0.527, 0.515, 0.498, 0.477, 0.452, 0.437, 0.422, 0.407, 0.393, 0.38, 0.367, 0.353, 0.344, 0.338],
    SCM_seq=[0.585, 0.578, 0.57, 0.56, 0.545, 0.52, 0.49, 0.46, 0.447, 0.432, 0.418, 0.403, 0.388, 0.372, 0.355, 0.345, 0.338],
    SePH_km=[0.6, 0.598, 0.595, 0.588, 0.575, 0.555, 0.525, 0.493, 0.477, 0.46, 0.442, 0.423, 0.403, 0.382, 0.36, 0.347, 0.338],
    GSePH_km=[0.6, 0.595, 0.59, 0.582, 0.567, 0.545, 0.515, 0.483, 0.467, 0.45, 0.433, 0.414, 0.396, 0.376, 0.356, 0.345, 0.338],
    DCH=[0.58, 0.58, 0.578, 0.572, 0.555, 0.53, 0.5, 0.47, 0.455, 0.44, 0.423, 0.405, 0.39, 0.375, 0.357, 0.345, 0.338],
    SRLCH=[0.355, 0.355, 0.355, 0.355, 0.355, 0.355, 0.354, 0.353, 0.352, 0.351, 0.35, 0.348, 0.346, 0.344, 0.342, 0.34, 0.338],
    MTFH_rnd=[0.638, 0.632, 0.628, 0.625, 0.62, 0.607, 0.578, 0.543, 0.522, 0.498, 0.472, 0.445, 0.415, 0.385, 0.358, 0.345, 0.338],
    MTFH_km=[0.645, 0.64, 0.635, 0.63, 0.625, 0.612, 0.585, 0.55, 0.528, 0.503, 0.477, 0.448, 0.418, 0.388, 0.36, 0.347, 0.338])
nall_ti128 = dict(
    CMFH=[0.415, 0.405, 0.395, 0.385, 0.378, 0.372, 0.367, 0.363, 0.36, 0.358, 0.355, 0.352, 0.35, 0.347, 0.343, 0.34, 0.338],
    SMFH=[0.375, 0.368, 0.362, 0.36, 0.358, 0.357, 0.356, 0.355, 0.354, 0.353, 0.352, 0.35, 0.348, 0.346, 0.343, 0.34, 0.338],
    FSH=[0.545, 0.54, 0.53, 0.515, 0.5, 0.485, 0.467, 0.45, 0.44, 0.43, 0.418, 0.405, 0.392, 0.378, 0.36, 0.346, 0.338],
    SCM_seq=[0.595, 0.585, 0.575, 0.56, 0.545, 0.525, 0.5, 0.478, 0.465, 0.452, 0.437, 0.422, 0.406, 0.39, 0.37, 0.35, 0.338],
    SePH_km=[0.742, 0.735, 0.725, 0.705, 0.685, 0.66, 0.62, 0.583, 0.56, 0.535, 0.51, 0.485, 0.458, 0.428, 0.392, 0.36, 0.338],
    GSePH_km=[0.755, 0.74, 0.725, 0.7, 0.675, 0.645, 0.605, 0.565, 0.545, 0.52, 0.495, 0.47, 0.445, 0.415, 0.385, 0.355, 0.338],
    DCH=[0.64, 0.62, 0.605, 0.585, 0.565, 0.54, 0.515, 0.49, 0.475, 0.46, 0.445, 0.428, 0.412, 0.395, 0.372, 0.352, 0.338],
    SRLCH=[0.345, 0.343, 0.342, 0.342, 0.342, 0.342, 0.342, 0.342, 0.342, 0.342, 0.341, 0.341, 0.34, 0.34, 0.339, 0.338, 0.338],
    MTFH_rnd=[0.78, 0.775, 0.768, 0.76, 0.75, 0.735, 0.705, 0.66, 0.635, 0.605, 0.57, 0.535, 0.495, 0.45, 0.395, 0.358, 0.338],
    MTFH_km=[0.79, 0.78, 0.772, 0.765, 0.755, 0.742, 0.715, 0.672, 0.645, 0.615, 0.58, 0.545, 0.5, 0.455, 0.4, 0.36, 0.338])

# ---------------- styles ----------------
STYLE = {
    'CMFH': dict(color='#4a7bd0', ls=(0, (4, 1.5, 1, 1.5)), marker='s', mfc='#a9c4ee', ms=3.0),
    'SMFH': dict(color='#00e600', ls=(0, (3, 1.5)), marker='D', mfc='#00e600', ms=2.4),
    'FSH': dict(color='#de7b45', ls=(0, (3, 1, 1, 1, 1, 1)), marker='v', mfc='#de7b45', ms=3.0),
    'SCM_seq': dict(color='#a6a000', ls=(0, (3, 1.5, 1, 1.5)), marker='s', mfc='#a6a000', ms=2.6),
    'SePH_km': dict(color='#8b008b', ls=(0, (4, 1.5, 1, 1.5)), marker='o', mfc='#c27bc2', ms=3.0),
    'GSePH_km': dict(color='#ff00ff', ls=(0, (1.5, 1)), marker='o', mfc='#ff00ff', ms=3.0),
    'DCH': dict(color='#daa520', ls=(0, (4, 1.5, 1, 1.5)), marker='^', mfc='#daa520', ms=3.0),
    'SRLCH': dict(color='#0000ff', ls=(0, (1, 1)), marker='h', mfc='#0000ff', ms=3.3),
    'MTFH_rnd': dict(color='#ff0000', ls='-', marker='s', mfc='#ff0000', ms=2.6, lw=1.3),
    'MTFH_km': dict(color='#5f9a9e', ls='-', marker='o', mfc='#5f9a9e', ms=3.0, lw=1.3),
}

def wiki_grid(kind):
    return {m: (R_WIKI_IT if kind == 'IT' else R_WIKI_TI) for m in METHODS}

MIR_GRID = {'CMFH': R_MIR_C, 'SMFH': R_MIR_C, 'FSH': R_MIR_C, 'SRLCH': R_MIR_C,
            'SCM_seq': R_MIR_B, 'SePH_km': R_MIR_B, 'GSePH_km': R_MIR_B, 'DCH': R_MIR_B,
            'MTFH_rnd': R_MIR_A, 'MTFH_km': R_MIR_A}
NUS_GRID = {m: R_NUS for m in METHODS}

ARROW_IT = 'I\u2192T'
ARROW_TI = 'T\u2192I'
BITS = [32, 32, 64, 64, 128, 128]
DIRS = [ARROW_IT, ARROW_TI] * 3

ROW_INFO = [
    ('Wiki', [wiki_it32, wiki_ti32, wiki_it64, wiki_ti64, wiki_it128, wiki_ti128],
     [wiki_grid('IT'), wiki_grid('TI')] * 3,
     [(0.1, 0.3), (0.1, 0.8), (0.1, 0.32), (0.1, 0.8), (0.1, 0.32), (0.1, 0.8)],
     [[0.1, 0.2, 0.3], [0.1, 0.2, 0.3, 0.4, 0.5, 0.6, 0.7, 0.8]] * 3),
    ('MIRFlickr', [mir_it32, mir_ti32, mir_it64, mir_ti64, mir_it128, mir_ti128],
     [MIR_GRID] * 6,
     [(0.5, 0.8), (0.5, 0.9)] * 3,
     [[0.5, 0.6, 0.7, 0.8], [0.5, 0.6, 0.7, 0.8, 0.9]] * 3),
    ('NUS-WIDE-100k', [n100_it32, n100_ti32, n100_it64, n100_ti64, n100_it128, n100_ti128],
     [NUS_GRID] * 6,
     [(0.335, 0.675), (0.335, 0.845), (0.338, 0.722), (0.335, 0.86), (0.338, 0.722), (0.335, 0.86)],
     [[0.4, 0.5, 0.6], [0.4, 0.5, 0.6, 0.7, 0.8], [0.4, 0.5, 0.6, 0.7], [0.4, 0.5, 0.6, 0.7, 0.8],
      [0.4, 0.5, 0.6, 0.7], [0.4, 0.5, 0.6, 0.7, 0.8]]),
    ('NUS-WIDE-All', [nall_it32, nall_ti32, nall_it64, nall_ti64, nall_it128, nall_ti128],
     [NUS_GRID] * 6,
     [(0.336, 0.662), (0.333, 0.825), (0.338, 0.676), (0.333, 0.82), (0.338, 0.676), (0.333, 0.82)],
     [[0.4, 0.5, 0.6], [0.4, 0.5, 0.6, 0.7, 0.8]] * 3),
]

W, H = 997, 532
COL_L = [22.5, 190, 354, 520.5, 685, 851]
AX_W = 142
ROWS = [(24, 124), (154, 254), (287, 382), (420, 512)]
XTICKS = [0.1, 0.2, 0.3, 0.4, 0.5, 0.6, 0.7, 0.8, 0.9, 1.0]
XTICKLABELS = ['0.1', '0.2', '0.3', '0.4', '0.5', '0.6', '0.7', '0.8', '0.9', '1']

fig = plt.figure(figsize=(W / 100, H / 100), dpi=100)

legend_handles = None
for r, (top, bot) in enumerate(ROWS):
    name, datas, grids, ylims, yticks = ROW_INFO[r]
    for c in range(6):
        ax = fig.add_axes([COL_L[c] / W, 1 - bot / H, AX_W / W, (bot - top) / H])
        data = datas[c]
        grid = grids[c]
        handles = []
        for m in METHODS:
            st = STYLE[m]
            xs = grid[m]
            ys = data[m]
            n = min(len(xs), len(ys))
            ln, = ax.plot(xs[:n], ys[:n], color=st['color'], linestyle=st['ls'],
                          lw=st.get('lw', 0.9), marker=st['marker'], ms=st['ms'],
                          mfc=st['mfc'], mec=st['color'], mew=0.6, label=m,
                          zorder=3 if not m.startswith('MTFH') else 4)
            handles.append(ln)
        if legend_handles is None:
            legend_handles = handles
        ax.set_xlim(0, 1)
        ax.set_ylim(*ylims[c])
        ax.set_xticks(XTICKS)
        ax.set_xticklabels(XTICKLABELS)
        ax.set_yticks(yticks[c])
        ax.set_yticklabels(['%g' % v for v in yticks[c]])
        ax.tick_params(labelsize=6, direction='in', length=2, width=0.5, pad=1.5, colors='#222222')
        ax.grid(True, color='#b0b0b0', linestyle=(0, (2, 2)), lw=0.5)
        ax.set_axisbelow(True)
        for sp in ax.spines.values():
            sp.set_color('#555555')
            sp.set_linewidth(1.0)
        ax.set_xlabel('Recall', fontsize=6, labelpad=0)
        ax.set_ylabel('Precision', fontsize=6, labelpad=1)
        ax.set_title('%s %s (%d bits)' % (name, DIRS[c], BITS[c]), fontsize=6.3, pad=3)

# legend entries at fixed spacing
for i, h in enumerate(legend_handles):
    x = (103 + 80.5 * i) / W
    fig.legend([h], [METHODS[i]], loc='center left', bbox_to_anchor=(x, 1 - 6.5 / H),
               frameon=False, fontsize=7.5, handlelength=2.1, handletextpad=0.6,
               borderpad=0, borderaxespad=0)

fig.savefig('out.png', dpi=100)
